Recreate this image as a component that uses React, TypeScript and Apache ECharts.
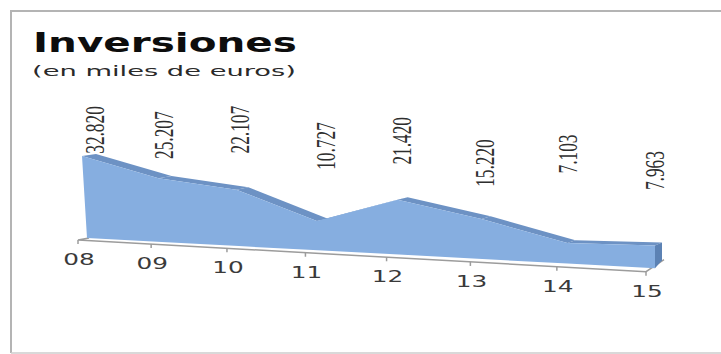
import React, { useEffect, useRef } from "react";
import * as echarts from "echarts";

const years = ["08", "09", "10", "11", "12", "13", "14", "15"];
const investments = [32820, 25207, 22107, 10727, 21420, 15220, 7103, 7963];
const valueLabels = ["32.820", "25.207", "22.107", "10.727", "21.420", "15.220", "7.103", "7.963"];

const titleText = "Inversiones";
const subtitleText = "(en miles de euros)";

// Free-hand placement of each value label relative to its peak, in pixels.
const labelLift = [26, 43, 60, 75, 59, 56, 89, 75];
const labelShift = [13, 6, 4, 9, 4, 3, 1, 0];

const WIDTH = 721;
const HEIGHT = 354;
const FLOOR_SLOPE = 0.0532;
const AREA_PERSPECTIVE = 0.09;
const AXIS_PERSPECTIVE = 0.115;

const FRONT = "#86aee0";
const TOP_FACE = "#6d92c4";
const SIDE_FACE = "#5c82b4";
const AXIS = "#9c9c9c";

function renderArea(params: any, api: any) {
  const i: number = params.dataIndex;
  const n = investments.length;
  const left = api.coord([0, api.value(1)])[0];
  const right = api.coord([n - 1, api.value(1)])[0];
  const floorY = api.coord([0, -1500])[1];

  // Foreshortened x, sloped floor and a slight lean of the tall peaks.
  const warpX = (k: number, amount: number) => {
    const t = k / (n - 1);
    return left + (right - left) * (t + amount * t * (t - 1));
  };
  const baseY = (x: number) => floorY + FLOOR_SLOPE * (x - left);
  const base = (k: number) => {
    const x = warpX(k, AREA_PERSPECTIVE);
    return [x, baseY(x)];
  };
  const top = (k: number) => {
    const x = warpX(k, AREA_PERSPECTIVE);
    const lift = floorY - api.coord([k, investments[k]])[1];
    const t = k / (n - 1);
    return [x - (5 * lift * (1 - t)) / 82, baseY(x) - lift];
  };
  const back = (k: number) => {
    const p = top(k);
    const t = k / (n - 1);
    return [p[0] + 14 - 7 * t, p[1] - 2 - t];
  };
  const axisPoint = (k: number) => {
    const x = warpX(k, AXIS_PERSPECTIVE);
    const t = k / (n - 1);
    return [x - 9, baseY(x) + 2 + 1.5 * t];
  };

  const children: any[] = [];
  const idx = years.map((_, k) => k);

  if (i === 0) {
    const lastAxis = axisPoint(n - 1);
    const firstAxis = axisPoint(0);
    const lastBase = base(n - 1);
    const lastTop = top(n - 1);
    const lastBack = back(n - 1);
    // Floor edges at both ends of the axis.
    children.push({
      type: "polyline",
      shape: { points: [[left + 2, floorY], firstAxis, lastAxis, [lastAxis[0] + 18, lastAxis[1] - 12]] },
      style: { stroke: AXIS, lineWidth: 1.5, fill: "none" },
    });
    // Top face of the ribbon.
    for (let k = 0; k < n - 1; k++) {
      children.push({
        type: "polygon",
        shape: { points: [top(k), top(k + 1), back(k + 1), back(k)] },
        style: { fill: TOP_FACE },
      });
    }
    // Right side of the ribbon.
    children.push({
      type: "polygon",
      shape: { points: [lastTop, lastBack, [lastBack[0], lastBase[1] - 8], lastBase] },
      style: { fill: SIDE_FACE },
    });
    // Front face.
    children.push({
      type: "polygon",
      shape: { points: [...idx.map(top), ...[...idx].reverse().map(base)] },
      style: { fill: FRONT },
    });
  }

  const tick = axisPoint(i);
  children.push({
    type: "line",
    shape: { x1: tick[0], y1: tick[1], x2: tick[0], y2: tick[1] + 4 },
    style: { stroke: AXIS, lineWidth: 1.5 },
  });
  children.push({
    type: "text",
    x: tick[0] + 1,
    y: tick[1] + 20,
    scaleX: 1.65,
    style: {
      text: years[i],
      font: '15px "DejaVu Sans"',
      fill: "#3a3a3a",
      align: "center",
      verticalAlign: "middle",
    },
  });

  const peak = top(i);
  children.push({
    type: "text",
    x: peak[0] + labelShift[i],
    y: peak[1] - labelLift[i],
    rotation: Math.PI / 2,
    scaleX: 0.64,
    style: {
      text: valueLabels[i],
      font: '27px "Liberation Sans Narrow"',
      fill: "#2e2e2e",
      align: "center",
      verticalAlign: "middle",
    },
  });

  return { type: "group", children };
}

export default function App() {
  const ref = useRef<HTMLDivElement>(null);

  useEffect(() => {
    document.body.style.margin = "0";
    const chart = echarts.init(ref.current!, undefined, { renderer: "svg" });
    chart.setOption({
      animation: false,
      backgroundColor: "#ffffff",
      grid: { left: 87, right: WIDTH - 655, top: 139, height: 99 },
      xAxis: { type: "category", data: years, boundaryGap: false, show: false },
      yAxis: { type: "value", min: -1500, max: 39924, show: false },
      graphic: [
        {
          type: "polyline",
          z: 0,
          shape: { points: [[WIDTH + 2, 11], [11, 11], [11, 353]] },
          style: { stroke: "#b4b4b4", lineWidth: 2, fill: "none" },
        },
        {
          type: "line",
          z: 0,
          shape: { x1: 11, y1: 353, x2: WIDTH, y2: 353 },
          style: { stroke: "#cdcdcd", lineWidth: 1.5 },
        },
        {
          type: "text",
          x: 33,
          y: 29,
          scaleX: 1.5,
          style: { text: titleText, font: 'bold 27px "DejaVu Sans"', fill: "#0d0d0d" },
        },
        {
          type: "text",
          x: 32,
          y: 64,
          scaleX: 1.95,
          style: { text: subtitleText, font: '14px "DejaVu Sans"', fill: "#2a2a2a" },
        },
      ],
      series: [
        {
          type: "custom",
          clip: false,
          renderItem: renderArea,
          encode: { x: 0, y: 1 },
          data: investments.map((v, i) => [i, v]),
        },
      ],
    });
    return () => chart.dispose();
  }, []);

  return <div ref={ref} style={{ width: WIDTH, height: HEIGHT }} />;
}
